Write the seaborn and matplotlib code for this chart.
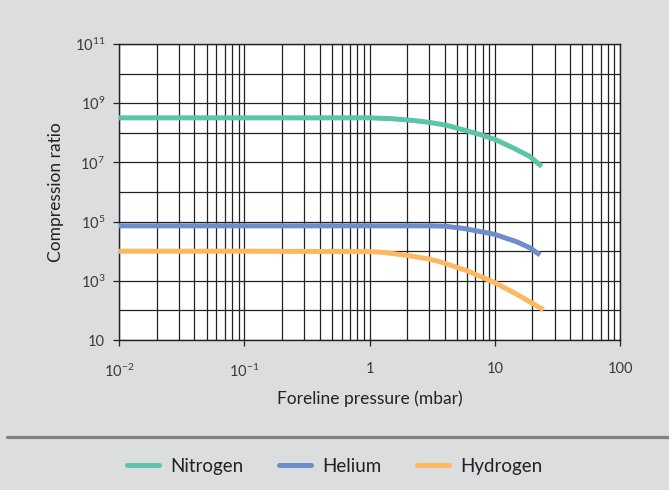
import matplotlib
matplotlib.use("Agg")
import matplotlib.pyplot as plt
import matplotlib.ticker as mticker
from matplotlib.lines import Line2D
import numpy as np
import pandas as pd
import seaborn as sns

# ---- data ----
pressure_n2 = [0.01, 0.1, 1, 1.5, 2.24, 3, 4.13, 5.6, 7.6, 10, 14, 19, 23.7]
nitrogen = [3.2e8, 3.2e8, 3.2e8, 3.0e8, 2.6e8, 2.25e8, 1.8e8, 1.26e8, 8.8e7, 6.0e7, 3.1e7, 1.6e7, 7.3e6]

pressure_he = [0.01, 0.1, 1, 3, 4, 5.6, 7.5, 10, 12.3, 14.9, 19.1, 23]
helium = [7.2e4, 7.2e4, 7.2e4, 7.2e4, 7.0e4, 5.9e4, 4.7e4, 3.7e4, 2.75e4, 2.1e4, 1.3e4, 7.5e3]

pressure_h2 = [0.01, 0.1, 1, 1.3, 2, 3, 3.66, 5.97, 10, 14.9, 23, 24.5]
hydrogen = [1.0e4, 1.0e4, 9.7e3, 9.1e3, 7.2e3, 5.4e3, 4.4e3, 2.2e3, 870, 355, 123, 105]

gases = ["Nitrogen", "Helium", "Hydrogen"]
colors = ["#5cc4a9", "#6f8dca", "#fdb862"]

x_ticks = [0.01, 0.1, 1, 10, 100]
x_labels = ["$10^{-2}$", "$10^{-1}$", "1", "10", "100"]
y_ticks = [1e1, 1e3, 1e5, 1e7, 1e9, 1e11]
y_labels = ["10", "$10^{3}$", "$10^{5}$", "$10^{7}$", "$10^{9}$", "$10^{11}$"]

df = pd.concat([
    pd.DataFrame({"p": pressure_n2, "ratio": nitrogen, "gas": "Nitrogen"}),
    pd.DataFrame({"p": pressure_he, "ratio": helium, "gas": "Helium"}),
    pd.DataFrame({"p": pressure_h2, "ratio": hydrogen, "gas": "Hydrogen"}),
], ignore_index=True)

sns.set_theme(style="white")
plt.rcParams["font.family"] = ["Lato", "DejaVu Sans"]
plt.rcParams["mathtext.default"] = "regular"

bg = "#dcdddf"
fig = plt.figure(figsize=(6.69, 4.90), dpi=100, facecolor=bg)
ax = fig.add_axes([0.1779, 0.3061, 0.7489, 0.6041])
ax.set_facecolor("white")

sns.lineplot(data=df, x="p", y="ratio", hue="gas", hue_order=gases,
             palette=colors, linewidth=3.6, ax=ax, legend=False,
             estimator=None, sort=True, solid_capstyle="butt", zorder=3)

ax.set_xscale("log")
ax.set_yscale("log")
ax.set_xlim(0.01, 100)
ax.set_ylim(10, 1e11)

ax.set_xticks(x_ticks)
ax.set_xticklabels(x_labels)
ax.xaxis.set_minor_locator(mticker.LogLocator(base=10, subs=np.arange(2, 10)))
ax.xaxis.set_minor_formatter(mticker.NullFormatter())

ax.set_yticks(y_ticks)
ax.set_yticklabels(y_labels)
ax.yaxis.set_minor_locator(mticker.FixedLocator([1e2, 1e4, 1e6, 1e8, 1e10]))
ax.yaxis.set_minor_formatter(mticker.NullFormatter())

ax.grid(True, which="both", color="#222222", linewidth=0.9)
ax.tick_params(which="major", direction="out", length=4, width=0.9, color="#222222",
               labelsize=10.5, labelcolor="#3a3a3a", left=True, bottom=True)
ax.tick_params(axis="x", which="major", pad=12)
ax.tick_params(axis="y", which="major", pad=6)
ax.tick_params(which="minor", length=0)
for s in ax.spines.values():
    s.set_color("#222222")
    s.set_linewidth(1.0)

ax.set_xlabel("Foreline pressure (mbar)", fontsize=12.5, color="#222222", labelpad=8)
ax.set_ylabel("Compression ratio", fontsize=12.5, color="#222222", labelpad=8)

# separator line
fig.add_artist(Line2D([7 / 669, 1.0], [1 - 437 / 490, 1 - 437 / 490],
                      color="#808080", linewidth=2.3, transform=fig.transFigure))

handles = [Line2D([0], [0], color=c, linewidth=3.6) for c in colors]
fig.legend(handles, gases, loc="center", bbox_to_anchor=(0.5, 1 - 466 / 490),
           ncol=3, frameon=False, fontsize=13.5, handlelength=1.7,
           columnspacing=1.9, handletextpad=0.6, labelcolor="#222222")

fig.savefig("out.png", dpi=100, facecolor=bg)
